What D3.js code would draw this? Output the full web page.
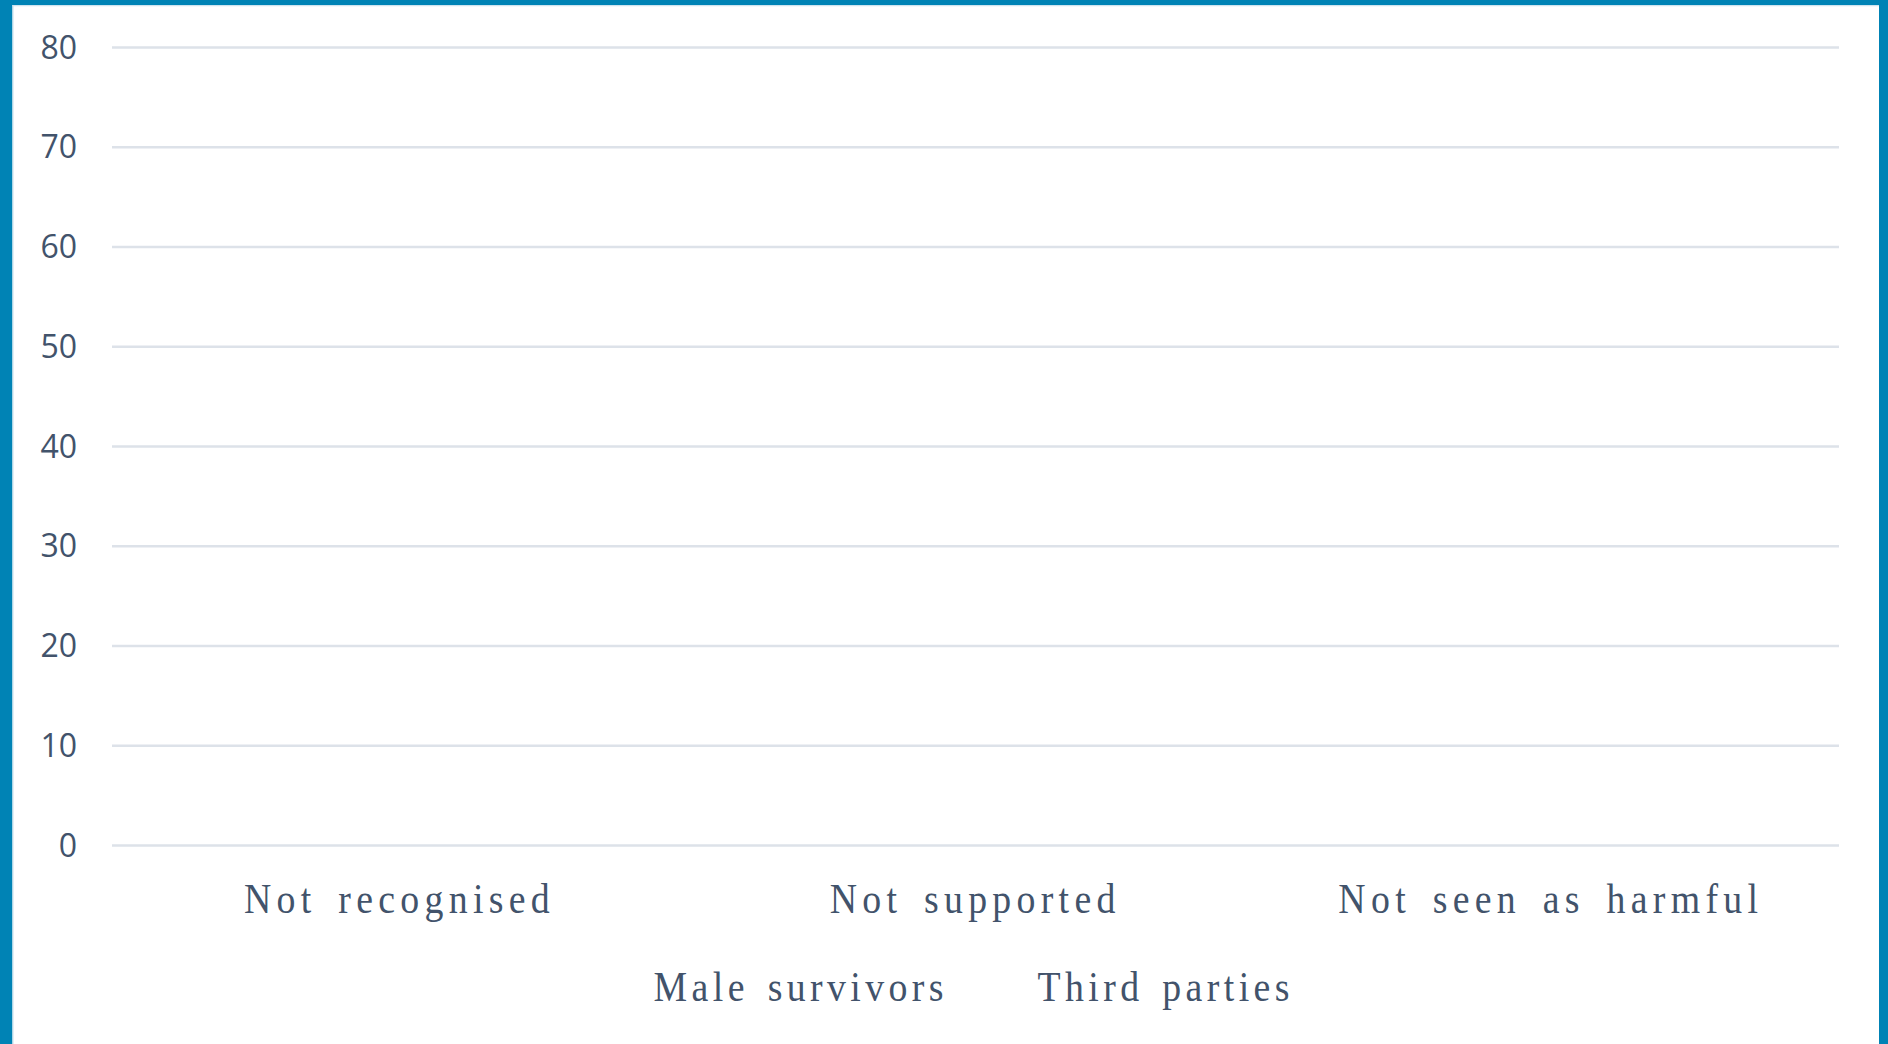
<!DOCTYPE html>
<html><head><meta charset="utf-8">
<script src="https://cdn.jsdelivr.net/npm/d3@7"></script>
<style>html,body{margin:0;padding:0;background:#fff;overflow:hidden}</style>
</head><body>
<svg id="c" width="1888" height="1044"></svg>
<script>
const categories = ["Not recognised", "Not supported", "Not seen as harmful"];
const seriesNames = ["Male survivors", "Third parties"];
const maleSurvivors = [0, 0, 0];
const thirdParties = [0, 0, 0];
const yTickValues = [0, 10, 20, 30, 40, 50, 60, 70, 80];

const W = 1888, H = 1044;
const plot = {left: 112, right: 1839, top: 47, bottom: 845};
const textColor = "#42536b";
const svg = d3.select("#c");

svg.append("rect").attr("width", W).attr("height", H).attr("fill", "#fff");

const x = d3.scaleBand().domain(categories).range([plot.left, plot.right]).padding(0);
const xs = d3.scaleBand().domain(seriesNames).range([0, x.bandwidth()]).paddingInner(0.1).paddingOuter(1.5);
const y = d3.scaleLinear().domain([0, 80]).range([plot.bottom, plot.top]);

// gridlines + y tick labels
const yAxis = d3.axisLeft(y).tickValues(yTickValues).tickSize(-(plot.right - plot.left)).tickPadding(35).tickFormat(d3.format("d"));
const ga = svg.append("g").attr("transform", `translate(${plot.left},0)`).call(yAxis);
ga.select(".domain").remove();
ga.selectAll(".tick line").attr("stroke", "#dde2e9").attr("stroke-width", 2.6);
ga.selectAll(".tick text").attr("fill", textColor).attr("font-family", "'Open Sans', sans-serif")
  .attr("font-size", 32).attr("dy", "0.35em");

// bars (all zero in the reference)
const seriesData = [maleSurvivors, thirdParties];
const colors = ["#4472c4", "#ed7d31"];
seriesNames.forEach((s, si) => {
  svg.append("g").selectAll("rect").data(seriesData[si]).join("rect")
    .attr("x", (d, i) => x(categories[i]) + xs(s))
    .attr("width", xs.bandwidth())
    .attr("y", d => y(d))
    .attr("height", d => y(0) - y(d))
    .attr("fill", colors[si]);
});

// category labels (slightly condensed serif, spaced)
const sx = 0.9, fs = 42;
const catLS = 5.3 / sx, catWS = 7 / sx;
const cg = svg.append("g").selectAll("g").data(categories).join("g")
  .attr("transform", d => `translate(${x(d) + x.bandwidth() / 2 - 3},913) scale(${sx},1)`);
cg.append("text").text(d => d)
  .attr("text-anchor", "middle").attr("dx", catLS / 2)
  .attr("font-family", "'Liberation Serif', 'Times New Roman', serif")
  .attr("font-size", fs).attr("letter-spacing", catLS).attr("word-spacing", catWS)
  .attr("fill", textColor);

// legend
const legLS = 4.4 / sx, legWS = 5 / sx, gap = 94;
const lg = svg.append("g");
const items = lg.selectAll("g").data(seriesNames).join("g");
const lt = items.append("text").text(d => d)
  .attr("font-family", "'Liberation Serif', 'Times New Roman', serif")
  .attr("font-size", fs).attr("letter-spacing", legLS).attr("word-spacing", legWS)
  .attr("fill", textColor)
  .attr("transform", `scale(${sx},1)`);
const widths = [];
lt.each(function () { widths.push((this.getComputedTextLength() - legLS) * sx); });
const total = d3.sum(widths) + gap * (widths.length - 1);
let start = (plot.left + plot.right) / 2 - 4 - total / 2;
items.attr("transform", (d, i) => {
  const t = `translate(${start},1001)`;
  start += widths[i] + gap;
  return t;
});

// border frame
const blue = "#0083b5";
svg.append("rect").attr("x", 0).attr("y", 0).attr("width", 12.5).attr("height", H).attr("fill", blue);
svg.append("rect").attr("x", 0).attr("y", 0).attr("width", W).attr("height", 5).attr("fill", blue);
svg.append("rect").attr("x", 1879).attr("y", 0).attr("width", 9).attr("height", H).attr("fill", blue);
svg.append("line").attr("x1", 13).attr("x2", 13).attr("y1", 5).attr("y2", H).attr("stroke", "#cfe4ef").attr("stroke-width", 1.2);
svg.append("line").attr("x1", 12.5).attr("x2", 1879).attr("y1", 5.6).attr("y2", 5.6).attr("stroke", "#cfe4ef").attr("stroke-width", 1.2);
</script>
</body></html>
